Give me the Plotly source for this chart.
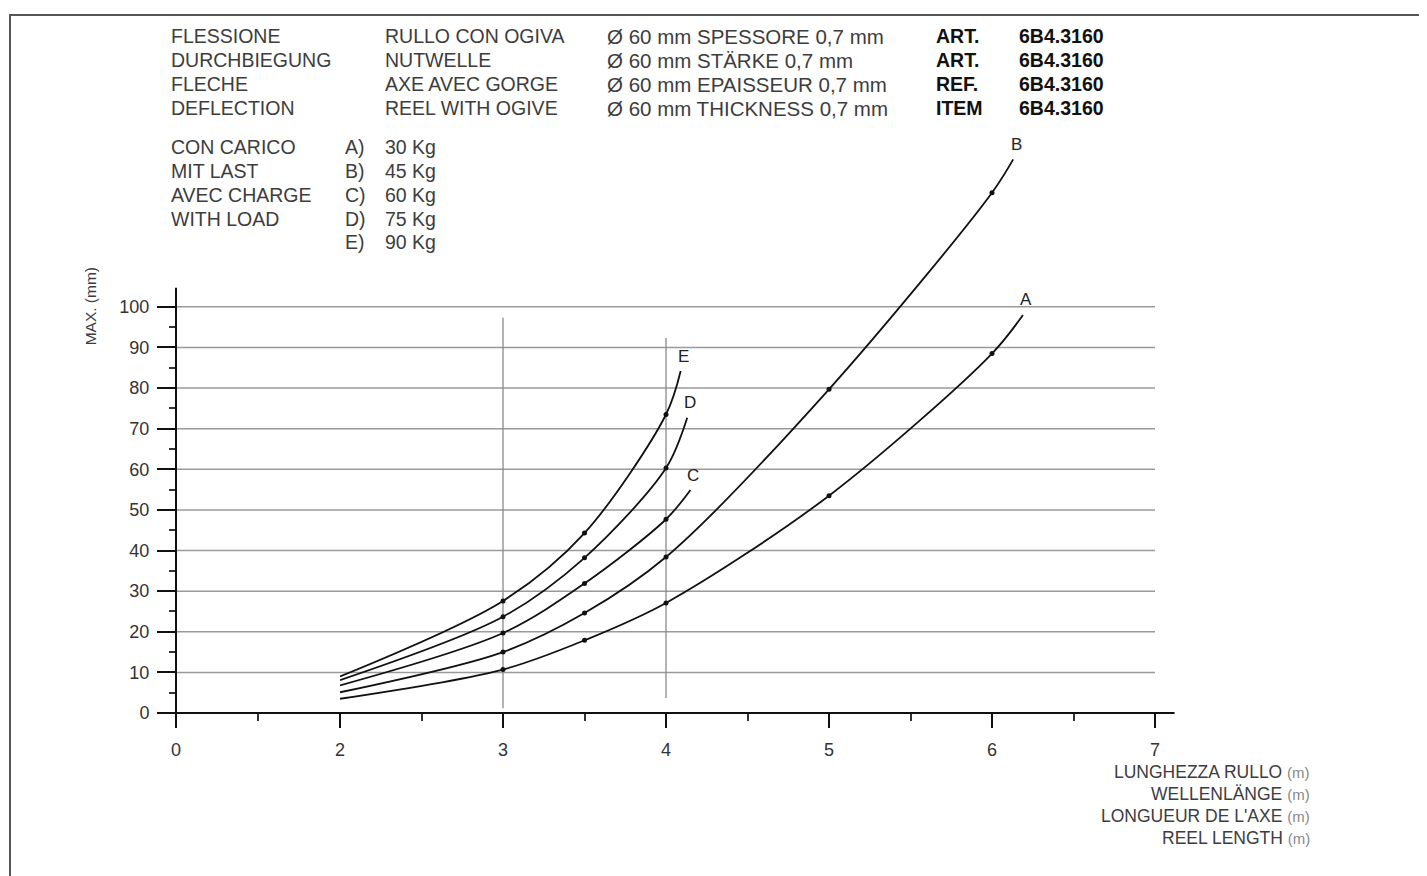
import plotly.graph_objects as go

# ---------------- data ----------------
CURVE_NAMES = ["A", "B", "C", "D", "E"]
LOAD_KG = ["30 Kg", "45 Kg", "60 Kg", "75 Kg", "90 Kg"]

A_X = [2, 3, 3.5, 4, 5, 6, 6.19]
A_Y = [3.5, 10.7, 17.9, 27.1, 53.5, 88.5, 98.0]
B_X = [2, 3, 3.5, 4, 5, 6, 6.13]
B_Y = [5.1, 15.0, 24.6, 38.4, 79.7, 128.1, 136.3]
C_X = [2, 3, 3.5, 4, 4.15]
C_Y = [6.8, 19.7, 31.9, 47.7, 54.9]
D_X = [2, 3, 3.5, 4, 4.13]
D_Y = [8.1, 23.7, 38.2, 60.3, 72.7]
E_X = [2, 3, 3.5, 4, 4.09]
E_Y = [9.0, 27.6, 44.3, 73.5, 84.2]

Y_TICKS = [0, 10, 20, 30, 40, 50, 60, 70, 80, 90, 100]
Y_MINOR = [5, 15, 25, 35, 45, 55, 65, 75, 85, 95]
X_TICKS_LOW = [0]
X_MINOR_LOW = [1]
X_TICKS = [2, 3, 4, 5, 6, 7]
X_MINOR = [2.5, 3.5, 4.5, 5.5, 6.5]
REF_X = [3, 4]
REF_Y0 = [1.2, 3.7]
REF_Y1 = [97.3, 92.3]

HEAD_COL1 = ["FLESSIONE", "DURCHBIEGUNG", "FLECHE", "DEFLECTION"]
HEAD_COL2 = ["RULLO CON OGIVA", "NUTWELLE", "AXE AVEC GORGE", "REEL WITH OGIVE"]
HEAD_COL3 = ["Ø 60 mm SPESSORE 0,7 mm", "Ø 60 mm STÄRKE 0,7 mm",
             "Ø 60 mm EPAISSEUR 0,7 mm", "Ø 60 mm THICKNESS 0,7 mm"]
HEAD_COL4 = ["ART.", "ART.", "REF.", "ITEM"]
HEAD_COL5 = ["6B4.3160", "6B4.3160", "6B4.3160", "6B4.3160"]
LOAD_LABELS = ["CON CARICO", "MIT LAST", "AVEC CHARGE", "WITH LOAD"]
X_TITLES = ["LUNGHEZZA RULLO", "WELLENLÄNGE", "LONGUEUR DE L'AXE", "REEL LENGTH"]
Y_TITLE = "MAX. (mm)"

# ---------------- layout geometry ----------------
W, H = 1427, 876
OFF = 8  # page body margin
ML, MR, MT, MB = 176 - OFF, 247 + OFF, 133 - OFF, 162.5 + OFF
PW = W - ML - MR
PH = H - MT - MB
Y_MAX = PH / 4.065
X2_MAX = 2 + 840 / 163.0
DSPLIT = 164 / PW

FONT = "Liberation Sans, Arial, sans-serif"
TXT = "#3d3d3d"


def px(x, y):
    return (x - OFF - ML) / PW, (H - MB - (y - OFF)) / PH


fig = go.Figure()

curves = [(A_X, A_Y), (B_X, B_Y), (C_X, C_Y), (D_X, D_Y), (E_X, E_Y)]
for name, (xs, ys) in zip(CURVE_NAMES, curves):
    fig.add_trace(go.Scatter(x=xs, y=ys, mode="lines", xaxis="x2", yaxis="y",
                             line=dict(color="#111", width=1.8, shape="spline", smoothing=0.9),
                             hoverinfo="skip", showlegend=False))
    fig.add_trace(go.Scatter(x=xs[1:-1], y=ys[1:-1], mode="markers", xaxis="x2", yaxis="y",
                             marker=dict(color="#111", size=5), showlegend=False, name=name))
    fig.add_annotation(x=xs[-1], y=ys[-1], xref="x2", yref="y", text=name, showarrow=False,
                       xanchor="center", yanchor="middle", xshift=3, yshift=15,
                       font=dict(family=FONT, size=17, color="#222"))

shapes = []
# horizontal grid lines
for v in Y_TICKS[1:]:
    shapes.append(dict(type="line", xref="x", yref="y", x0=0, x1=2, y0=v, y1=v,
                       line=dict(color="#9a9a9a", width=1.5), layer="below"))
    shapes.append(dict(type="line", xref="x2", yref="y", x0=2, x1=7, y0=v, y1=v,
                       line=dict(color="#9a9a9a", width=1.5), layer="below"))
# vertical reference lines
for xv, y0, y1 in zip(REF_X, REF_Y0, REF_Y1):
    shapes.append(dict(type="line", xref="x2", yref="y", x0=xv, x1=xv, y0=y0, y1=y1,
                       line=dict(color="#8a8a8a", width=1.3), layer="below"))
# axis lines
xl0, _ = px(160, 0)
xr = DSPLIT + (7.12 - 2) / (X2_MAX - 2) * (1 - DSPLIT)
shapes.append(dict(type="line", xref="paper", yref="paper", x0=xl0, x1=xr, y0=0, y1=0,
                   line=dict(color="#111", width=2)))
_, yb = px(0, 728)
shapes.append(dict(type="line", xref="paper", yref="paper", x0=0, x1=0, y0=yb,
                   y1=104.7 / Y_MAX, line=dict(color="#111", width=2)))
# outer frame
fx0, fy0 = px(10, 15)
fx1, fy1 = px(W + 20, H + 20)
shapes.append(dict(type="rect", xref="paper", yref="paper", x0=fx0, y0=fy1, x1=fx1, y1=fy0,
                   line=dict(color="#555", width=2)))


def txt(xp, yp, s, size=19.5, color=TXT, bold=False, xanchor="left", angle=0):
    xx, yy = px(xp, yp)
    fig.add_annotation(x=xx, y=yy, xref="paper", yref="paper", text=(f"<b>{s}</b>" if bold else s),
                       showarrow=False, xanchor=xanchor, yanchor="middle", textangle=angle,
                       font=dict(family=FONT, size=size, color=color))


rows = [36, 60, 84, 108]
for i, r in enumerate(rows):
    txt(169, r, HEAD_COL1[i])
    txt(383, r, HEAD_COL2[i])
    txt(605, r, HEAD_COL3[i], size=20.5)
    txt(934, r, HEAD_COL4[i], color="#111", bold=True)
    txt(1017, r, HEAD_COL5[i], color="#111", bold=True)

rows2 = [147, 171, 195, 219, 242]
for i, r in enumerate(rows2):
    if i < len(LOAD_LABELS):
        txt(169, r, LOAD_LABELS[i])
    txt(343, r, CURVE_NAMES[i] + ")")
    txt(383, r, LOAD_KG[i])

xr_rows = [773, 795, 817, 839]
for i, r in enumerate(xr_rows):
    txt(1312, r, X_TITLES[i] + ' <span style="font-size:15px;fill:#888">(m)</span>', size=17.5,
        xanchor="right")

txt(80, 307, Y_TITLE, size=15.5, angle=-90)

tickfont = dict(family=FONT, size=18, color="#333")
fig.update_layout(
    width=W, height=H,
    margin=dict(l=ML, r=MR, t=MT, b=MB),
    paper_bgcolor="white", plot_bgcolor="white",
    shapes=shapes,
    xaxis=dict(domain=[0, DSPLIT], range=[0, 2], anchor="y", tickvals=X_TICKS_LOW,
               ticktext=[str(v) for v in X_TICKS_LOW], ticks="outside", ticklen=14,
               tickwidth=2, tickcolor="#111", showline=False, showgrid=False, zeroline=False,
               tickfont=tickfont, ticklabelstandoff=6,
               minor=dict(tickvals=X_MINOR_LOW, ticks="outside", ticklen=7, tickwidth=1.5,
                          tickcolor="#333", showgrid=False)),
    xaxis2=dict(domain=[DSPLIT, 1], range=[2, X2_MAX], anchor="y", tickvals=X_TICKS,
                ticktext=[str(v) for v in X_TICKS], ticks="outside", ticklen=14,
                tickwidth=2, tickcolor="#111", showline=False, showgrid=False, zeroline=False,
                tickfont=tickfont, ticklabelstandoff=6,
                minor=dict(tickvals=X_MINOR, ticks="outside", ticklen=7, tickwidth=1.5,
                           tickcolor="#333", showgrid=False)),
    yaxis=dict(range=[0, Y_MAX], anchor="x", tickvals=Y_TICKS,
               ticktext=[str(v) for v in Y_TICKS], ticks="outside", ticklen=18,
               tickwidth=2, tickcolor="#111", showline=False, showgrid=False, zeroline=False,
               tickfont=tickfont, ticklabelstandoff=4,
               minor=dict(tickvals=Y_MINOR, ticks="outside", ticklen=6, tickwidth=1.5,
                          tickcolor="#333", showgrid=False)),
)

fig.write_html("out.html")
